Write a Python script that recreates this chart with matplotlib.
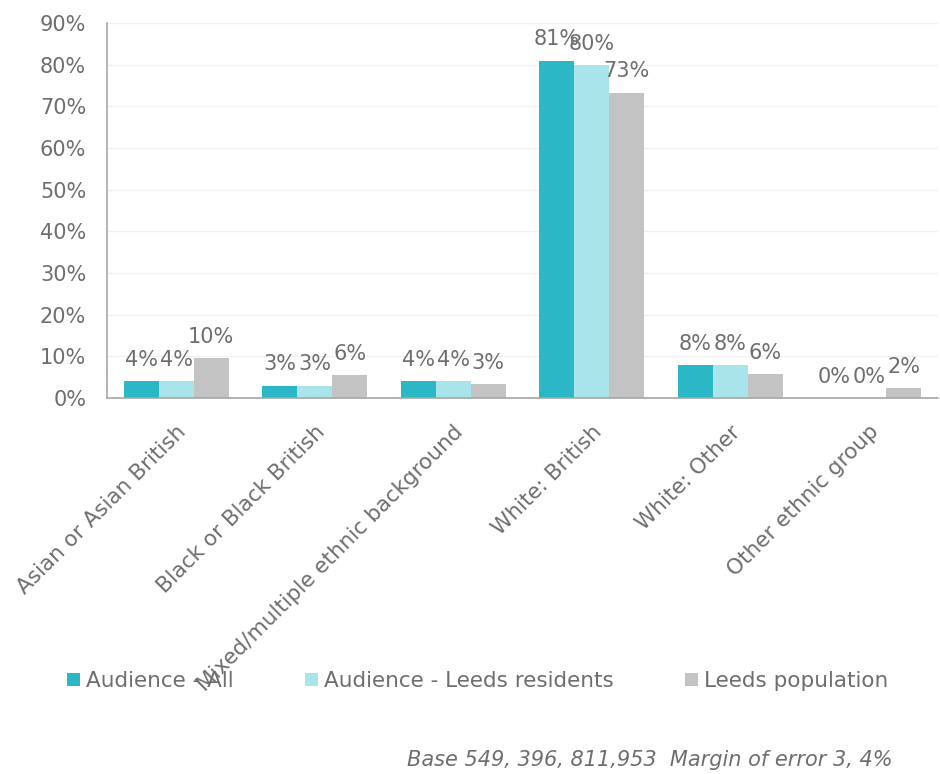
import matplotlib
matplotlib.use("Agg")
import matplotlib.pyplot as plt
import numpy as np

# data
categories = ["Asian or Asian British", "Black or Black British",
              "Mixed/multiple ethnic background", "White: British",
              "White: Other", "Other ethnic group"]
series_names = ["Audience - All", "Audience - Leeds residents", "Leeds population"]
audience_all = [4.0, 3.0, 4.0, 81.0, 8.0, 0.0]
audience_leeds = [4.0, 3.0, 4.0, 80.0, 8.0, 0.0]
leeds_population = [9.6, 5.5, 3.3, 73.3, 5.7, 2.3]
yticks = [0, 10, 20, 30, 40, 50, 60, 70, 80, 90]
footnote = "Base 549, 396, 811,953  Margin of error 3, 4%"

colors = ["#2BB7C5", "#A8E4EA", "#C3C3C3"]
text_col = "#6E6E6E"

plt.rcParams['font.family'] = ['DejaVu Sans']

fig = plt.figure(figsize=(9.4, 7.74), dpi=100)
ax = fig.add_axes([107/940, 1 - 398/774, (938-107)/940, (398-23)/774])

x = np.arange(len(categories))
w = 0.253
series = [audience_all, audience_leeds, leeds_population]
for i, (vals, name) in enumerate(zip(series, series_names)):
    pos = x + (i - 1) * w
    ax.bar(pos, vals, width=w, color=colors[i], label=name, zorder=2)
    for p, v in zip(pos, vals):
        ax.annotate(f"{v:.0f}%", (p, v), xytext=(0, 8), textcoords="offset points",
                    ha="center", va="bottom", fontsize=15, color=text_col)

ax.set_xlim(-0.5, len(categories) - 0.5)
ax.set_ylim(0, 90)
ax.set_yticks(yticks)
ax.set_yticklabels([f"{t}%" for t in yticks], fontsize=15, color=text_col)
ax.set_xticks(x)
ax.set_xticklabels(categories, rotation=45, ha="right", rotation_mode="anchor",
                   fontsize=15.5, color=text_col)
ax.tick_params(axis="y", length=0, pad=15)
ax.tick_params(axis="x", length=0, pad=17)
ax.grid(axis="y", color="#F0F0F0", linewidth=1, zorder=0)
for s in ["top", "right"]:
    ax.spines[s].set_visible(False)
for s in ["left", "bottom"]:
    ax.spines[s].set_color("#A6A6A6")
    ax.spines[s].set_linewidth(1.2)

fig.legend(loc="center", bbox_to_anchor=(0.508, 1 - 681/774), ncol=3, frameon=False,
           fontsize=15.5, labelcolor=text_col, handlelength=0.6, handleheight=0.6,
           handletextpad=0.3, columnspacing=3.3)

fig.text(893/940, 1 - 760/774, footnote, ha="right", va="center", fontsize=15,
         style="italic", color=text_col)

plt.savefig("out.png", dpi=100)
plt.close()
